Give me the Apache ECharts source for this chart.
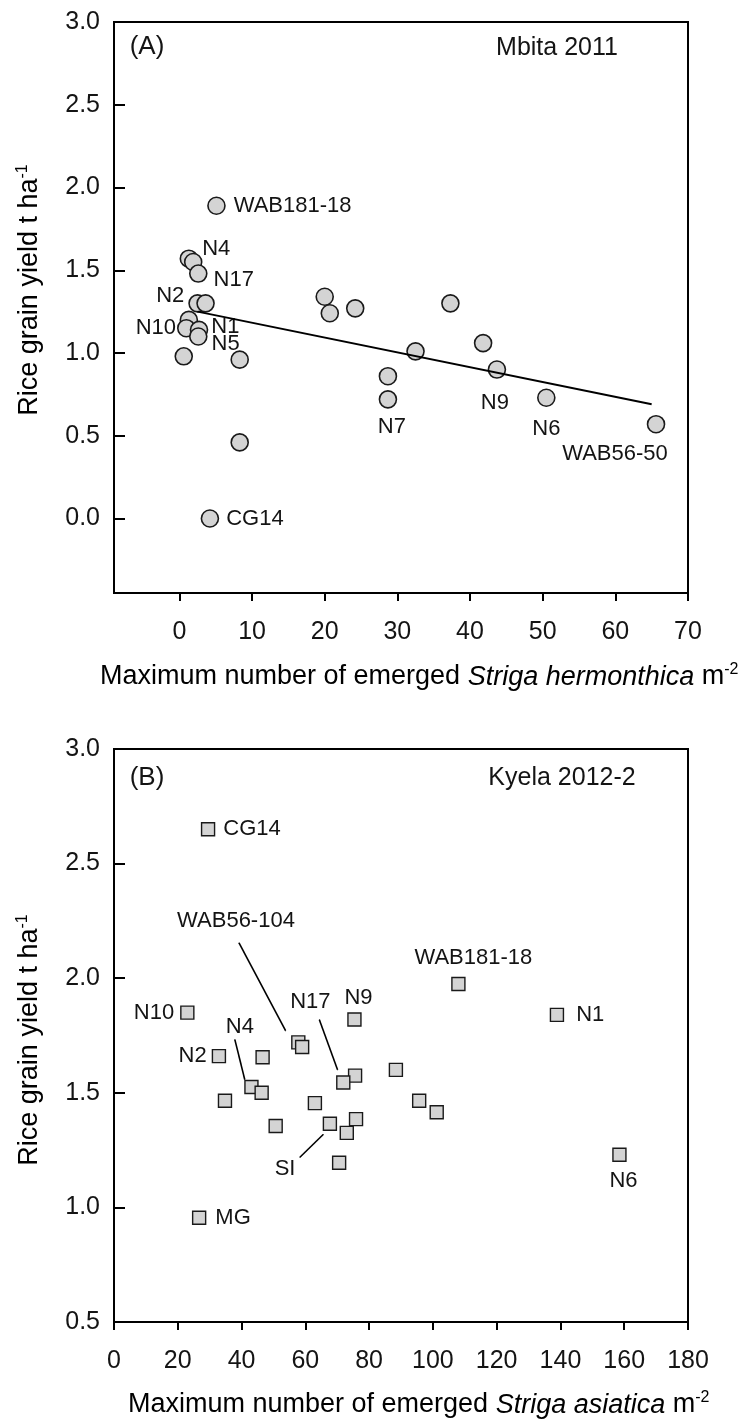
<!DOCTYPE html>
<html>
<head>
<meta charset="utf-8">
<script src="https://cdn.jsdelivr.net/npm/echarts@6/dist/echarts.min.js"></script>
<style>
html,body{margin:0;padding:0;background:#fff;}
#chart{width:750px;height:1426px;}
</style>
</head>
<body>
<div id="chart"></div>
<script>
// ---------- Panel A data (Mbita 2011) ----------
const namesA = ['WAB181-18','N4','','N17','N2','','','N10','N1','N5','','','','CG14','','','','','','','N9','','N7','N6','WAB56-50'];
const strigaA = [5.1,1.3,1.9,2.6,2.5,3.6,1.3,0.95,2.7,2.6,0.6,8.3,8.3,4.2,20.0,20.7,24.2,37.3,32.5,41.8,43.7,28.7,28.7,50.5,65.6];
const yieldA  = [1.89,1.57,1.55,1.48,1.30,1.30,1.20,1.15,1.14,1.10,0.98,0.96,0.46,0.00,1.34,1.24,1.27,1.30,1.01,1.06,0.90,0.86,0.72,0.73,0.57];
const fitLineX = [2.5, 65.0];
const fitLineY = [1.25, 0.69];
const xTicksA = [0,10,20,30,40,50,60,70];
const yTicksA = [0,0.5,1.0,1.5,2.0,2.5,3.0];

// ---------- Panel B data (Kyela 2012-2) ----------
const namesB = ['CG14','N10','N2','','','','','','','','','','','','','','','','','','N9','WAB181-18','N1','N6','MG'];
const strigaB = [29.5,23.0,32.9,46.6,57.8,59.0,43.1,46.3,34.8,63.0,50.7,67.7,73.0,75.9,70.6,75.6,71.9,88.4,95.7,101.2,75.4,108.0,138.9,158.5,26.7];
const yieldB  = [2.65,1.85,1.66,1.655,1.72,1.70,1.525,1.50,1.465,1.455,1.355,1.365,1.325,1.385,1.195,1.575,1.545,1.60,1.465,1.415,1.82,1.975,1.84,1.23,0.955];
const leaderNames = ['WAB56-104','N4','N17','SI'];
const leaderX = [[39.2,53.8],[37.9,41.0],[64.4,70.1],[58.3,65.6]];
const leaderY = [[2.154,1.771],[1.732,1.558],[1.819,1.601],[1.219,1.318]];
const xTicksB = [0,20,40,60,80,100,120,140,160,180];
const yTicksB = [0.5,1.0,1.5,2.0,2.5,3.0];

// ---------- styling ----------
const FONT = "'Liberation Sans', Arial, Helvetica, sans-serif";
const TXT = '#141414';
const labelPlaceA = {
  'WAB181-18': {position:'right', distance:8},
  'N4': {position:'right', distance:4, offset:[0,-10]},
  'N17': {position:'right', distance:6, offset:[0,6]},
  'N2': {position:'left', distance:4, offset:[0,-7]},
  'N10': {position:'left', distance:1},
  'N1': {position:'right', distance:3, offset:[0,-3]},
  'N5': {position:'right', distance:4, offset:[0,7]},
  'CG14': {position:'right', distance:7},
  'N9': {position:'bottom', distance:13, offset:[-2,0]},
  'N7': {position:'bottom', distance:7, offset:[4,0]},
  'N6': {position:'bottom', distance:11},
  'WAB56-50': {position:'bottom', distance:9, offset:[-41,0]}
};
const labelPlaceB = {
  'CG14': {position:'right', distance:8},
  'N10': {position:'left', distance:6},
  'N2': {position:'left', distance:5},
  'MG': {position:'right', distance:9},
  'N1': {position:'right', distance:12},
  'N6': {position:'bottom', distance:8, offset:[4,0]},
  'WAB181-18': {position:'top', distance:8, offset:[15,0]},
  'N9': {position:'top', distance:3, offset:[4,0]},
  'WAB56-104': {position:'top', distance:10, offset:[-3,0]},
  'N4_l': {position:'top', distance:1, offset:[5,0]},
  'N17_l': {position:'top', distance:6, offset:[-9,0]},
  'SI': {position:'left', distance:4, offset:[0,12]}
};

function pointData(xs, ys, names, place) {
  return xs.map((x, i) => {
    const item = {value:[x, ys[i]], name:names[i]};
    const p = place[names[i]];
    if (names[i] && p) {
      item.label = Object.assign({show:true, formatter:names[i], fontSize:22, fontFamily:FONT, color:TXT}, p);
    }
    return item;
  });
}

function axisX(grid, min, max, ticks) {
  return {
    gridIndex:grid, type:'value', min:min, max:max,
    axisLine:{show:true, onZero:false, lineStyle:{color:'#000', width:2}},
    axisTick:{show:true, inside:false, length:8, customValues:ticks, lineStyle:{color:'#000', width:2}},
    axisLabel:{customValues:ticks, fontSize:25, fontFamily:FONT, color:TXT, margin:27, formatter:v => String(v)},
    splitLine:{show:false}
  };
}
function axisY(grid, min, max, ticks) {
  return {
    gridIndex:grid, type:'value', min:min, max:max,
    axisLine:{show:true, onZero:false, lineStyle:{color:'#000', width:2}},
    axisTick:{show:true, inside:true, length:11, customValues:ticks, lineStyle:{color:'#000', width:2}},
    axisLabel:{customValues:ticks, fontSize:25, fontFamily:FONT, color:TXT, margin:14, formatter:v => v.toFixed(1)},
    splitLine:{show:false}
  };
}

const series = [];
series.push({
  type:'scatter', xAxisIndex:0, yAxisIndex:0, z:3,
  symbol:'circle', symbolSize:17,
  itemStyle:{color:'#d4d4d4', borderColor:'#1a1a1a', borderWidth:1.6, opacity:1},
  data:pointData(strigaA, yieldA, namesA, labelPlaceA)
});
series.push({
  type:'line', xAxisIndex:0, yAxisIndex:0, z:4,
  symbol:'none', lineStyle:{color:'#000', width:2},
  data:fitLineX.map((x,i)=>[x, fitLineY[i]])
});
series.push({
  type:'scatter', xAxisIndex:1, yAxisIndex:1, z:3,
  symbol:'rect', symbolSize:13,
  itemStyle:{color:'#d4d4d4', borderColor:'#1a1a1a', borderWidth:1.4, opacity:1},
  data:pointData(strigaB, yieldB, namesB, labelPlaceB)
});
leaderNames.forEach((nm, k) => {
  const key = labelPlaceB[nm] ? nm : nm + '_l';
  series.push({
    type:'line', xAxisIndex:1, yAxisIndex:1, z:2,
    symbol:'circle', symbolSize:1, showSymbol:true,
    itemStyle:{color:'#000'},
    lineStyle:{color:'#000', width:1.6},
    data:[
      {value:[leaderX[k][0], leaderY[k][0]], label:Object.assign({show:true, formatter:nm, fontSize:22, fontFamily:FONT, color:TXT}, labelPlaceB[key])},
      {value:[leaderX[k][1], leaderY[k][1]]}
    ]
  });
});

function txt(x, y, text, opts) {
  return Object.assign({
    type:'text', x:x, y:y, z:10,
    style:Object.assign({text:text, font:'25px ' + FONT, fill:TXT, align:'center', verticalAlign:'middle', textAlign:'center', textVerticalAlign:'middle'}, opts || {})
  });
}
const richT = {
  n:{fontSize:27, fontFamily:FONT, color:TXT},
  i:{fontSize:27, fontFamily:FONT, color:TXT, fontStyle:'italic'},
  s:{fontSize:16, fontFamily:FONT, color:TXT, padding:[0,0,15,0]}
};
const graphic = [
  txt(147, 47, '(A)', {font:'26px ' + FONT}),
  txt(557, 48, 'Mbita 2011'),
  txt(147, 778, '(B)', {font:'26px ' + FONT}),
  txt(562, 778, 'Kyela 2012-2'),
  {type:'text', x:100, y:677, z:10, style:{text:'{n|Maximum number of emerged }{i|Striga hermonthica}{n| m}{s|-2}', rich:richT, align:'left', verticalAlign:'middle', textAlign:'left', textVerticalAlign:'middle'}},
  {type:'text', x:128, y:1405, z:10, style:{text:'{n|Maximum number of emerged }{i|Striga asiatica}{n| m}{s|-2}', rich:richT, align:'left', verticalAlign:'middle', textAlign:'left', textVerticalAlign:'middle'}},
  {type:'text', x:30, y:290, rotation:Math.PI/2, z:10, style:{text:'{n|Rice grain yield t ha}{s|-1}', rich:richT, align:'center', verticalAlign:'middle', textAlign:'center', textVerticalAlign:'middle'}},
  {type:'text', x:30, y:1040, rotation:Math.PI/2, z:10, style:{text:'{n|Rice grain yield t ha}{s|-1}', rich:richT, align:'center', verticalAlign:'middle', textAlign:'center', textVerticalAlign:'middle'}}
];

const chart = echarts.init(document.getElementById('chart'), null, {renderer:'canvas'});
chart.setOption({
  animation:false,
  backgroundColor:'#fff',
  grid:[
    {left:114, right:62, top:22, height:571, show:true, borderColor:'#000', borderWidth:2, backgroundColor:'rgba(0,0,0,0)'},
    {left:114, right:62, top:749, height:573, show:true, borderColor:'#000', borderWidth:2, backgroundColor:'rgba(0,0,0,0)'}
  ],
  xAxis:[axisX(0, -9, 70, xTicksA), axisX(1, 0, 180, xTicksB)],
  yAxis:[axisY(0, -0.45, 3.0, yTicksA), axisY(1, 0.5, 3.0, yTicksB)],
  series:series,
  graphic:graphic
});
</script>
</body>
</html>
